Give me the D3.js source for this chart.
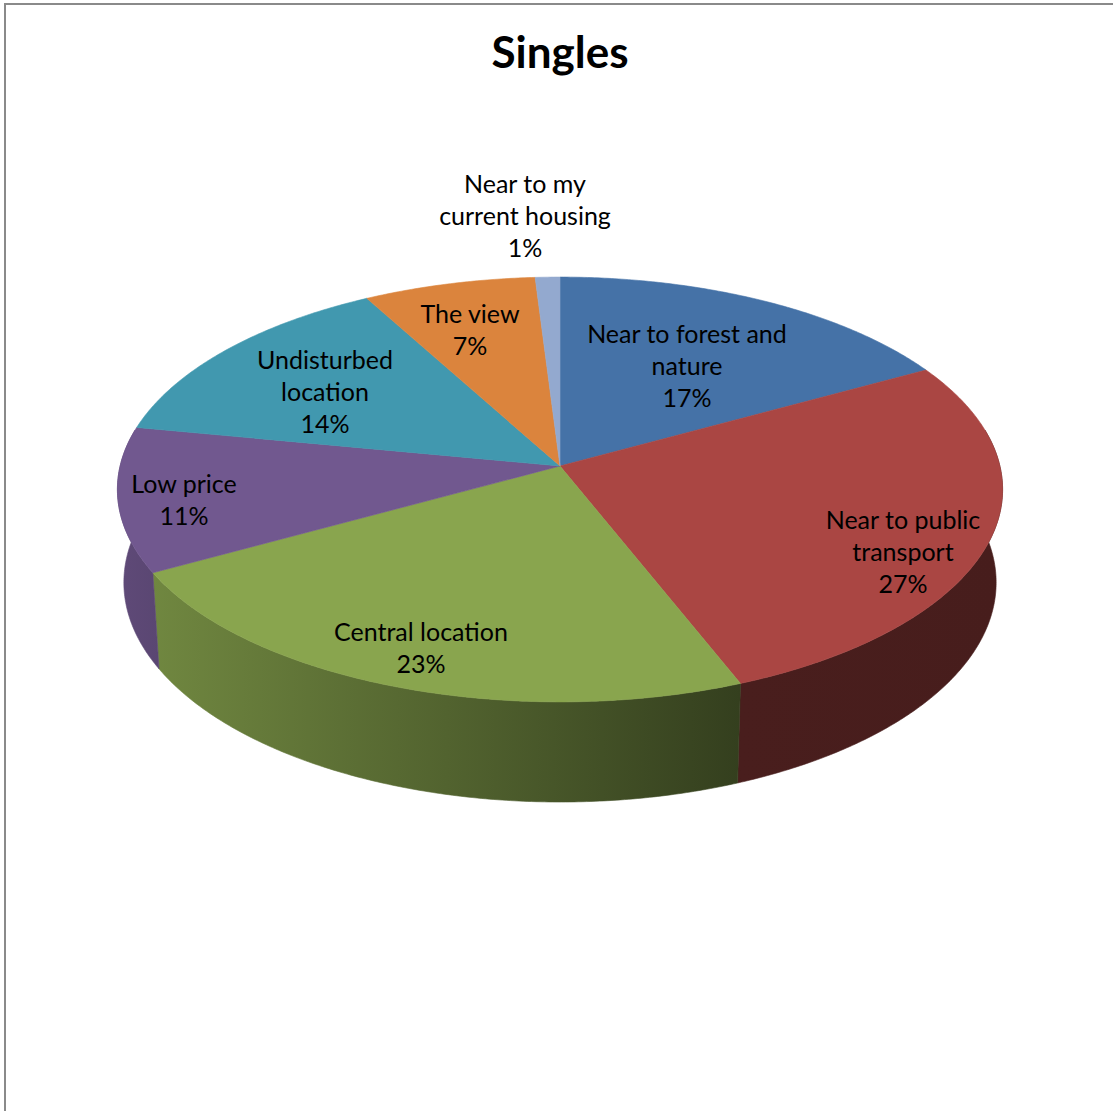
<!DOCTYPE html>
<html>
<head>
<meta charset="utf-8">
<script src="https://cdn.jsdelivr.net/npm/d3@7"></script>
<style>
  html, body { margin: 0; padding: 0; background: #fff; }
  svg { display: block; }
</style>
</head>
<body>
<svg id="chart" width="1113" height="1111"></svg>
<script>
// Survey answers for the "Singles" group (percent of respondents)
const categories = [
  "Near to forest and nature",
  "Near to public transport",
  "Central location",
  "Low price",
  "Undisturbed location",
  "The view",
  "Near to my current housing"
];
const values = [17, 27, 23, 11, 14, 7, 1];
const labelLines = [
  ["Near to forest and", "nature"],
  ["Near to public", "transport"],
  ["Central location"],
  ["Low price"],
  ["Undisturbed", "location"],
  ["The view"],
  ["Near to my", "current housing"]
];

// Styling: top-face colours and side shading (brightness at left / right end of a slice's wall)
const topColors = ["#4572A7", "#AA4643", "#89A54E", "#71588F", "#4198AF", "#DB843D", "#93A9CF"];
const sideShade = [[0.5, 0.5], [0.43, 0.42], [0.82, 0.38], [0.84, 0.80], [0.8, 0.8], [0.6, 0.6], [0.6, 0.6]];
// Centre of each label block in screen space
const labelAnchor = [[687, 366], [903, 552], [421, 648], [184, 500], [325, 392], [470, 330], [525, 216]];

const W = 1113, H = 1111;
const svg = d3.select("#chart");

// Chart frame
svg.append("rect")
  .attr("x", 5).attr("y", 4)
  .attr("width", W + 20).attr("height", H + 20)
  .attr("fill", "#fff").attr("stroke", "#8a8a8a").attr("stroke-width", 2);

// Title
svg.append("text")
  .attr("x", 560).attr("y", 68)
  .attr("text-anchor", "middle")
  .attr("font-family", "Lato, 'Open Sans', sans-serif")
  .attr("font-weight", "bold")
  .attr("font-size", 44)
  .attr("fill", "#000")
  .text("Singles");

// Perspective camera looking down onto a unit disc
const cam = {
  ox: 560, oy: 466,       // projected disc centre
  F: 3497,                // focal length (px)
  kx: 1.0,                // horizontal stretch
  D: 7.95,                // camera distance
  phi: Math.asin(0.477),  // elevation angle
  T: 0.243                // disc thickness
};
const sinP = Math.sin(cam.phi), cosP = Math.cos(cam.phi);

// theta: clockwise from 12 o'clock; r: radius fraction; y: height (0 top, -T bottom)
function project(theta, r, y) {
  const X = r * Math.sin(theta), Z = r * Math.cos(theta);
  const yc = y * cosP + Z * sinP;
  const zc = cam.D - y * sinP + Z * cosP;
  return [cam.ox + cam.kx * cam.F * X / zc, cam.oy - cam.F * yc / zc];
}

const pie = d3.pie().sort(null).value(d => d).startAngle(0).endAngle(2 * Math.PI);
const arcs = pie(values);

function sampleAngles(a0, a1) {
  const n = Math.max(2, Math.ceil((a1 - a0) / (Math.PI / 180) * 2));
  return d3.range(n + 1).map(i => a0 + (a1 - a0) * i / n);
}

const line = d3.line().curve(d3.curveLinear);
const defs = svg.append("defs");

// Outer walls on the near half of the disc
const sideLo = 80 * Math.PI / 180, sideHi = 280 * Math.PI / 180;
const sides = svg.append("g");
arcs.forEach((a, i) => {
  const a0 = Math.max(a.startAngle, sideLo), a1 = Math.min(a.endAngle, sideHi);
  if (a1 <= a0) return;
  const angs = sampleAngles(a0, a1);
  const topPts = angs.map(t => project(t, 1, 0));
  const botPts = angs.map(t => project(t, 1, -cam.T)).reverse();
  const pts = topPts.concat(botPts);
  const xs = pts.map(p => p[0]);
  const xMin = d3.min(xs), xMax = d3.max(xs);
  const base = d3.color(topColors[i]);
  const gid = "side" + i;
  const g = defs.append("linearGradient").attr("id", gid)
    .attr("gradientUnits", "userSpaceOnUse")
    .attr("x1", xMin).attr("x2", xMax).attr("y1", 0).attr("y2", 0);
  const shade = (f) => d3.rgb(base.r * f, base.g * f, base.b * f).formatHex();
  g.append("stop").attr("offset", 0).attr("stop-color", shade(sideShade[i][0]));
  g.append("stop").attr("offset", 1).attr("stop-color", shade(sideShade[i][1]));
  sides.append("path")
    .attr("d", line(pts) + "Z")
    .attr("fill", `url(#${gid})`)
    .attr("stroke", `url(#${gid})`)
    .attr("stroke-width", 0.6);
});

// Top faces
const tops = svg.append("g");
arcs.forEach((a, i) => {
  const pts = [project(0, 0, 0)].concat(sampleAngles(a.startAngle, a.endAngle).map(t => project(t, 1, 0)));
  tops.append("path")
    .attr("d", line(pts) + "Z")
    .attr("fill", topColors[i])
    .attr("stroke", topColors[i])
    .attr("stroke-width", 0.6);
});

// Data labels
const lineH = 32;
const labels = svg.append("g")
  .attr("font-family", "Lato, 'Open Sans', sans-serif")
  .attr("font-size", 25)
  .attr("fill", "#000")
  .attr("text-anchor", "middle");
arcs.forEach((a, i) => {
  const lines = labelLines[i].concat([d3.format(".0f")(a.data) + "%"]);
  const [cx, cy] = labelAnchor[i];
  const y0 = cy - (lines.length - 1) * lineH / 2;
  const t = labels.append("text").attr("x", cx);
  lines.forEach((s, k) => {
    t.append("tspan").attr("x", cx).attr("y", y0 + k * lineH).attr("dy", "0.35em").text(s);
  });
});
</script>
</body>
</html>
